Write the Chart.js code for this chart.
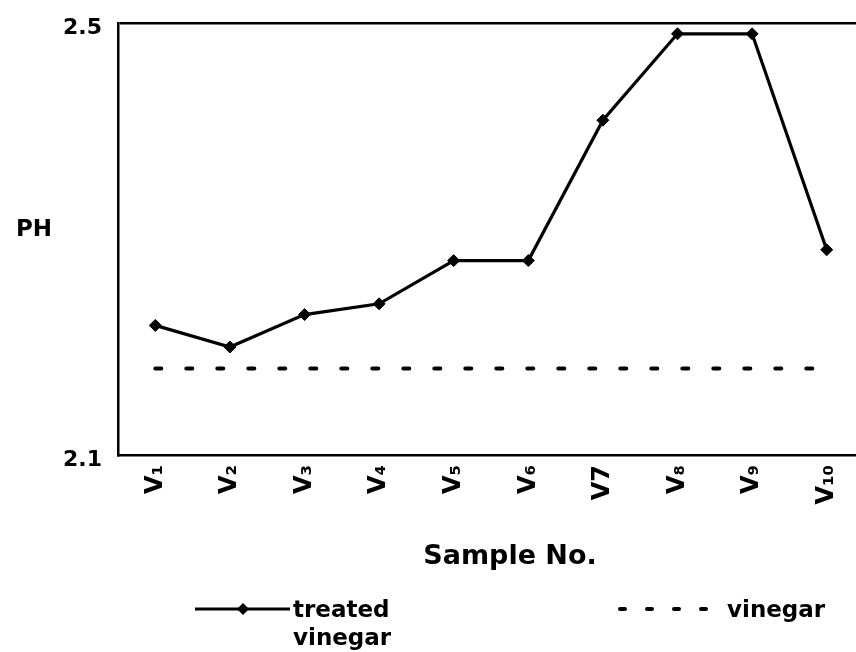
<!DOCTYPE html>
<html>
<head>
<meta charset="utf-8">
<script src="https://cdn.jsdelivr.net/npm/chart.js@4/dist/chart.umd.min.js"></script>
<style>
  html, body { margin: 0; padding: 0; background: #fff; overflow: hidden; }
  #wrap { width: 871px; height: 652px; }
</style>
</head>
<body>
<div id="wrap"><canvas id="grafic" width="871" height="652"></canvas></div>
<script>
// Mostres i valors de pH llegits del gràfic
const mostres = ['V\u2081', 'V\u2082', 'V\u2083', 'V\u2084', 'V\u2085', 'V\u2086', 'V7', 'V\u2088', 'V\u2089', 'V\u2081\u2080'];
const vinagreTractat = [2.22, 2.20, 2.23, 2.24, 2.28, 2.28, 2.41, 2.49, 2.49, 2.29];
const vinagre = [2.18, 2.18, 2.18, 2.18, 2.18, 2.18, 2.18, 2.18, 2.18, 2.18];
const yTicks = [2.1, 2.5];

const FONT = '"DejaVu Sans", sans-serif';

// Etiquetes "PH", "Sample No." i llegenda a sota
const extres = {
    id: 'extres',
    afterDraw(chart) {
        const c = chart.ctx;
        c.save();
        c.fillStyle = '#000';
        c.textBaseline = 'alphabetic';
        c.textAlign = 'left';
        c.font = 'bold 23px ' + FONT;
        c.fillText('PH', 16, 236);

        c.font = 'bold 27px ' + FONT;
        c.textAlign = 'center';
        c.fillText('Sample No.', 510, 564);
        c.textAlign = 'left';

        const ds = chart.data.datasets;
        // treated vinegar
        c.strokeStyle = ds[0].borderColor;
        c.lineWidth = 3;
        c.beginPath();
        c.moveTo(195, 609);
        c.lineTo(290, 609);
        c.stroke();
        c.beginPath();
        c.moveTo(243, 603); c.lineTo(249, 609); c.lineTo(243, 615); c.lineTo(237, 609);
        c.closePath();
        c.fill();
        c.font = 'bold 23px ' + FONT;
        c.fillText('treated', 293, 617);
        c.fillText('vinegar', 293, 645);

        // vinegar
        c.strokeStyle = ds[1].borderColor;
        c.lineWidth = ds[1].borderWidth;
        c.lineCap = 'round';
        c.setLineDash([5, 22]);
        c.beginPath();
        c.moveTo(620, 609);
        c.lineTo(706, 609);
        c.stroke();
        c.setLineDash([]);
        c.fillText('vinegar', 727, 617);
        c.restore();
    }
};

new Chart(document.getElementById('grafic'), {
    type: 'line',
    data: {
        labels: mostres,
        datasets: [{
            label: 'treated vinegar',
            data: vinagreTractat,
            borderColor: '#000',
            backgroundColor: '#000',
            borderWidth: 3.2,
            pointStyle: 'rectRot',
            pointRadius: 6,
            pointBorderWidth: 1,
            tension: 0
        }, {
            label: 'vinegar',
            data: vinagre,
            borderColor: '#000',
            borderWidth: 4,
            borderDash: [6, 25],
            borderCapStyle: 'round',
            pointRadius: 0,
            tension: 0
        }]
    },
    options: {
        responsive: false,
        animation: false,
        layout: { padding: { top: 23, left: 0, right: 0, bottom: 70 } },
        plugins: {
            legend: { display: false },
            tooltip: { enabled: false }
        },
        scales: {
            x: {
                offset: true,
                grid: { display: false, drawTicks: false },
                border: { display: true, color: '#000', width: 2.5 },
                ticks: {
                    color: '#000',
                    font: { family: FONT, size: 24, weight: 'bold' },
                    minRotation: 90,
                    maxRotation: 90,
                    autoSkip: false,
                    padding: 10
                },
                afterFit: s => { s.height = 127; }
            },
            y: {
                min: 2.1,
                max: 2.5,
                grid: {
                    drawTicks: true,
                    tickLength: 16,
                    tickColor: 'rgba(0,0,0,0)',
                    lineWidth: 2.5,
                    color: c => (c.tick && c.tick.value === 2.5 ? '#000' : 'rgba(0,0,0,0)')
                },
                border: { display: true, color: '#000', width: 2.5 },
                afterBuildTicks: s => { s.ticks = yTicks.map(v => ({ value: v })); },
                ticks: {
                    color: '#000',
                    font: { family: FONT, size: 22, weight: 'bold' },
                    padding: 0,
                    labelOffset: 5,
                    callback: v => v.toFixed(1)
                },
                afterFit: s => { s.width = 118; }
            }
        }
    },
    plugins: [extres]
});
</script>
</body>
</html>
